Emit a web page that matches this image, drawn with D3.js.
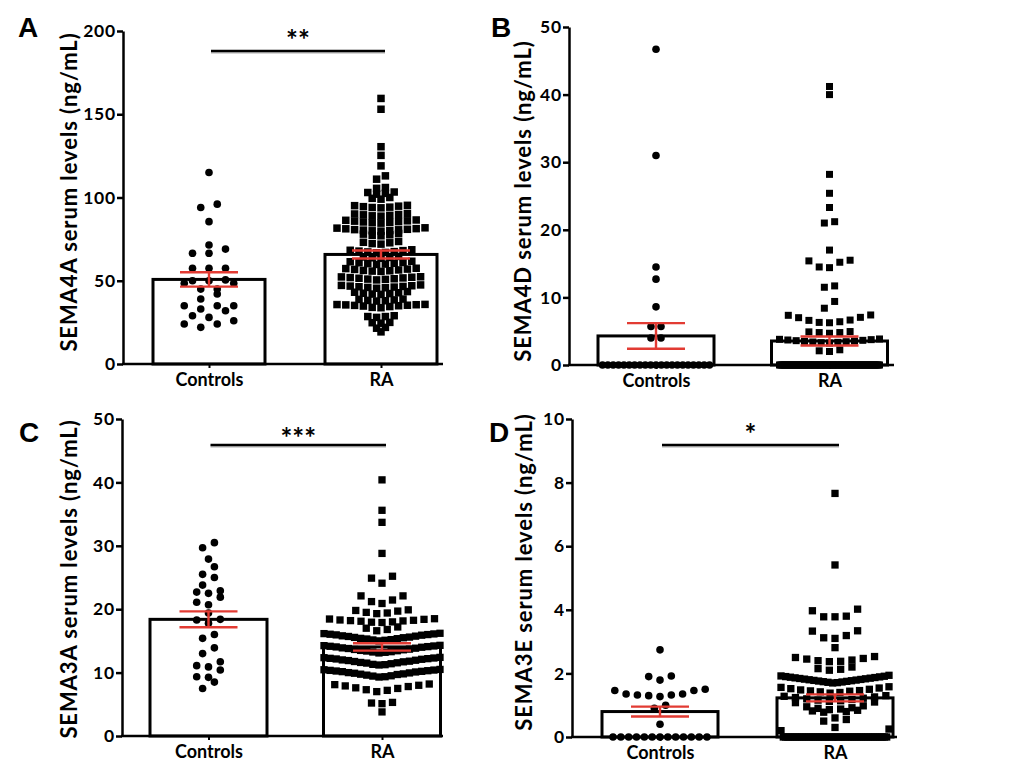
<!DOCTYPE html>
<html><head><meta charset="utf-8">
<script src="https://cdn.jsdelivr.net/npm/d3@7"></script>
<style>body{margin:0;background:#fff}svg{display:block}</style>
</head><body><svg id="c" width="1024" height="768"></svg>
<script>
// ---------------- DATA ----------------
const groups = ["Controls", "RA"];
const panelLetters = ["A", "B", "C", "D"];
const yTitles = ["SEMA4A serum levels (ng/mL)", "SEMA4D serum levels (ng/mL)",
                 "SEMA3A serum levels (ng/mL)", "SEMA3E serum levels (ng/mL)"];
const sigLabels = ["**", "", "***", "*"];
const sigLevel = [188, null, 45.9, 9.18];
const ticksA = [0, 50, 100, 150, 200];
const ticksB = [0, 10, 20, 30, 40, 50];
const ticksC = [0, 10, 20, 30, 40, 50];
const ticksD = [0, 2, 4, 6, 8, 10];

const meanA = [50.8, 65.8], semA = [4.3, 2.4];
const meanB = [4.3, 3.55], semB = [1.9, 0.67];
const meanC = [18.4, 14.05], semC = [1.25, 0.58];
const meanD = [0.8, 1.23], semD = [0.155, 0.11];

const A_controls = [115, 96, 94, 85.5, 71.5, 69, 66.5, 66.5, 57.5, 57.5, 57.5, 50.5, 50, 50, 48.5, 48.5,
  45, 45, 42, 39, 35, 35, 35, 33, 32, 29, 28, 26, 24, 24, 22];
const A_ra = [159.5, 153, 130.5, 125.3, 119, 113, 111, 106, 105.5, 103.3, 103, 102.5, 102, 100, 99.5, 99,
  95.3, 95.1, 94.8, 94.5, 94.2, 94, 93.8, 90.4, 90.1, 89.8, 89.6, 89.3, 89, 88.8,
  86.5, 86.3, 86, 85.8, 85.5, 85.3, 85, 84.8, 84.6,
  81.8, 81.6, 81.3, 81.2, 80.9, 80.7, 80.6, 80.4, 80.1, 80, 79.8,
  78.4, 78, 77.6, 77.3, 77, 73.6, 73.1, 72.8, 72.3, 72,
  68.6, 68.3, 68.1, 67.8, 67.5, 67.3, 67, 66.8, 64.6, 64.3, 64, 63.8, 63.5,
  61.7, 61.4, 61, 60.8, 60.5, 60.3, 60, 59.8,
  57.5, 57.3, 57, 56.8, 56.5, 56.2, 56, 55.8, 55.6,
  52.4, 52.3, 52.1, 51.9, 51.7, 51.5, 51.2, 51, 50.8, 50.5,
  47.5, 47.2, 47, 46.8, 46.6, 46.4, 46.2, 46, 45.8, 45.5,
  43.5, 43.1, 42.8, 42.5, 42.3, 42, 41.8, 39, 38.8, 38.5, 38.2, 38, 37.8,
  35.8, 35.7, 35.6, 35.5, 35.3, 35.2, 35, 34.8, 34.5, 34, 33.8,
  29, 28.5, 28.5, 28, 25, 24.8, 24.5, 22, 21.5, 19.3];

const B_controls = [46.7, 31, 14.5, 12.7, 8.6, 5.7, 5.7, 4, 4,
  0, 0, 0, 0, 0, 0, 0, 0, 0, 0, 0, 0, 0, 0, 0, 0, 0, 0, 0, 0, 0];
const B_ra = [41.2, 40.0, 28.2, 25.4, 23.3, 21.2, 21.0, 17.0, 15.5, 15.4, 15.2, 14.5, 14.4, 11.7, 11.5,
  9.4, 8.4, 7.4, 7.35, 7.05, 7.0, 6.65, 6.6, 6.4, 6.3, 6.25, 4.95, 4.9, 4.8, 4.8, 4.7,
  3.85, 3.8, 3.75, 3.7, 3.65, 3.6, 3.55, 3.5, 3.45, 3.4, 3.35, 3.3, 3.25, 2.25, 2.1, 2.0,
  0, 0, 0, 0, 0, 0, 0, 0, 0, 0, 0, 0, 0, 0, 0, 0, 0, 0, 0, 0, 0, 0, 0, 0, 0, 0, 0, 0,
  0, 0, 0, 0, 0, 0, 0, 0, 0, 0, 0, 0, 0, 0, 0, 0, 0, 0, 0, 0, 0, 0, 0, 0, 0, 0, 0, 0,
  0, 0, 0, 0, 0, 0, 0, 0, 0, 0, 0, 0, 0, 0, 0, 0, 0, 0, 0, 0, 0, 0, 0, 0, 0, 0, 0, 0];

const C_controls = [30.5, 29.7, 27.9, 26.7, 25.5, 25.0, 23.8, 22.9, 22.7, 22.5, 21.9, 21.1, 20.7, 19.4,
  18.4, 18.3, 17.8, 16.0, 15.4, 13.9, 13.0, 11.7, 11.1, 10.9, 10.4, 9.35, 9.25, 8.5, 7.5];
const C_ra = [40.4, 35.6, 33.7, 28.8, 25.2, 24.9, 24.1, 22.1, 22.1, 21.45, 21.2, 20.9,
  19.9, 19.8, 19.7, 19.5, 19.4, 19.3,
  18.5, 18.45, 18.4, 18.3, 18.25, 18.2, 18.15, 18.1, 18.0, 17.95, 17.9,
  17.2, 17.0, 16.8, 16.6,
  16.2, 16.15, 16.1, 16.05, 16.0, 15.95, 15.9, 15.8, 15.75, 15.7, 15.6, 15.55, 15.5, 15.4, 15.35, 15.3, 15.2, 15.15, 15.1, 15.0,
  14.3, 14.25, 14.2, 14.15, 14.1, 14.05, 14.0, 13.9, 13.85, 13.8, 13.7, 13.65, 13.6, 13.5, 13.45, 13.4, 13.3, 13.25, 13.2, 13.1,
  12.4, 12.35, 12.3, 12.25, 12.2, 12.15, 12.1, 12.0, 11.95, 11.9, 11.8, 11.75, 11.7, 11.6, 11.55, 11.5, 11.4, 11.3, 11.25, 11.2,
  10.5, 10.45, 10.4, 10.35, 10.3, 10.25, 10.2, 10.15, 10.1, 10.0, 9.95, 9.9, 9.8, 9.75, 9.7, 9.6, 9.5, 9.45, 9.35, 9.3,
  8.2, 8.1, 8.0, 7.9, 7.8, 7.6, 7.5, 7.3, 7.2, 7.0, 5.3, 5.2, 5.1, 3.8];

const D_controls = [2.74, 1.92, 1.9, 1.79, 1.5, 1.46, 1.46, 1.35, 1.35, 1.32, 1.32, 1.3, 1.27, 1.0, 0.9, 0.4,
  0, 0, 0, 0, 0, 0, 0, 0, 0, 0, 0, 0, 0];
const D_ra = [7.66, 5.41, 4.02, 3.97, 3.8, 3.78, 3.78, 3.34, 3.33, 3.19, 3.12, 3.1, 2.81,
  2.53, 2.5, 2.47, 2.45, 2.42, 2.4, 2.38, 2.37, 2.2, 2.15, 2.13, 2.1,
  1.94, 1.92, 1.91, 1.9, 1.89, 1.88, 1.87, 1.86, 1.85, 1.84, 1.83, 1.82, 1.81, 1.8, 1.79, 1.78, 1.77, 1.76, 1.75, 1.74, 1.73, 1.72, 1.71, 1.7,
  1.58, 1.56, 1.54, 1.52, 1.5, 1.48, 1.46, 1.45, 1.44, 1.42, 1.4, 1.38,
  1.3, 1.28, 1.26, 1.24, 1.22, 1.2, 1.18, 1.16, 1.14, 1.12, 1.1, 1.08,
  0.98, 0.95, 0.92, 0.9, 0.88, 0.86, 0.84, 0.82, 0.8, 0.78, 0.6, 0.55, 0.5, 0.3, 0.25, 0.2,
  0, 0, 0, 0, 0, 0, 0, 0, 0, 0, 0, 0, 0, 0, 0, 0, 0, 0, 0, 0, 0, 0, 0, 0,
  0, 0, 0, 0, 0, 0, 0, 0, 0, 0, 0, 0, 0, 0, 0, 0, 0, 0, 0, 0, 0, 0];

// ---------------- LAYOUT / STYLE ----------------
const panels = [
  { letter: panelLetters[0], title: yTitles[0], ctrl: A_controls, ra: A_ra, mean: meanA, sem: semA, ticks: ticksA,
    sig: sigLabels[0], sigV: sigLevel[0], sigDy: -17, max: 200,
    ax: 123, axEnd: 443, y0: 364, y1: 31, c0: 209, c1: 381, barW: 112,
    titleX: 77, titleY: 192, letterX: 18, letterY: 37,
    cs: { size: 7.6, spacing: 16.5, maxW: 100, tol: 8 }, rs: { size: 7.5, spacing: 8.8, maxW: 106, tol: 3.5 } },
  { letter: panelLetters[1], title: yTitles[1], ctrl: B_controls, ra: B_ra, mean: meanB, sem: semB, ticks: ticksB,
    sig: sigLabels[1], sigV: sigLevel[1], sigDy: -17, max: 50,
    ax: 569, axEnd: 894, y0: 365, y1: 27, c0: 656, c1: 829.5, barW: 116,
    titleX: 531, titleY: 201, letterX: 491, letterY: 37,
    cs: { size: 7.6, spacing: 10, maxW: 107, tol: 8 }, rs: { size: 7, spacing: 10.3, maxW: 100, tol: 8 } },
  { letter: panelLetters[2], title: yTitles[2], ctrl: C_controls, ra: C_ra, mean: meanC, sem: semC, ticks: ticksC,
    sig: sigLabels[2], sigV: sigLevel[2], sigDy: -13, max: 50,
    ax: 122, axEnd: 443, y0: 736, y1: 419, c0: 208.5, c1: 382, barW: 117,
    titleX: 77, titleY: 579, letterX: 19, letterY: 442,
    cs: { size: 7.6, spacing: 11.8, maxW: 100, tol: 8 }, rs: { size: 7.3, spacing: 10.5, maxW: 116, tol: 8 } },
  { letter: panelLetters[3], title: yTitles[3], ctrl: D_controls, ra: D_ra, mean: meanD, sem: semD, ticks: ticksD,
    sig: sigLabels[3], sigV: sigLevel[3], sigDy: -17, max: 10,
    ax: 572, axEnd: 897, y0: 737, y1: 419, c0: 660, c1: 835, barW: 116,
    titleX: 532, titleY: 572, letterX: 489, letterY: 442,
    cs: { size: 7.6, spacing: 11.3, maxW: 94, tol: 8 }, rs: { size: 7.3, spacing: 11.3, maxW: 108, tol: 8 } }
];

const FONT = "Lato, 'Open Sans', sans-serif";
const RED = "#e23b33";

// Prism-like row scatter: group close values into rows, spread each row centre-out
function layoutRows(values, y, cx, st) {
  const sorted = values.slice().sort((a, b) => a - b);
  const rows = []; let cur = null;
  for (const v of sorted) {
    if (cur && Math.abs(y(cur[0]) - y(v)) < st.tol) cur.push(v);
    else { cur = [v]; rows.push(cur); }
  }
  const pts = [];
  for (const row of rows) {
    const n = row.length;
    const sp = n > 1 ? Math.min(st.spacing, st.maxW / (n - 1)) : 0;
    const slots = [];
    if (n % 2) { slots.push(0); for (let k = 1; slots.length < n; k++) { slots.push(-k); if (slots.length < n) slots.push(k); } }
    else { for (let k = 0.5; slots.length < n; k++) { slots.push(-k); slots.push(k); } }
    row.forEach((v, i) => pts.push({ v, x: cx + slots[i] * sp }));
  }
  return pts;
}

const svg = d3.select("#c");
svg.append("rect").attr("width", 1024).attr("height", 768).attr("fill", "#fff");

panels.forEach(p => {
  const g = svg.append("g");
  const y = d3.scaleLinear().domain([0, p.max]).range([p.y0, p.y1]);
  const x = d3.scalePoint().domain(groups).range([p.c0, p.c1]);

  // bars (mean)
  g.selectAll("rect.bar").data(groups).join("rect").attr("class", "bar")
    .attr("x", d => x(d) - p.barW / 2)
    .attr("y", (d, i) => y(p.mean[i]))
    .attr("width", p.barW)
    .attr("height", (d, i) => y(0) - y(p.mean[i]))
    .attr("fill", "#fff").attr("stroke", "#000").attr("stroke-width", 3);

  // points
  const cp = layoutRows(p.ctrl, y, x("Controls"), p.cs);
  g.selectAll("circle.pt").data(cp).join("circle").attr("class", "pt")
    .attr("cx", d => d.x).attr("cy", d => y(d.v)).attr("r", p.cs.size / 2).attr("fill", "#000");
  const rp = layoutRows(p.ra, y, x("RA"), p.rs);
  g.selectAll("rect.pt").data(rp).join("rect").attr("class", "pt")
    .attr("x", d => d.x - p.rs.size / 2).attr("y", d => y(d.v) - p.rs.size / 2)
    .attr("width", p.rs.size).attr("height", p.rs.size).attr("fill", "#000");

  // error bars (SEM)
  const eb = g.selectAll("g.eb").data(groups).join("g").attr("class", "eb")
    .attr("stroke", RED).attr("stroke-width", 2.4);
  eb.append("line").attr("x1", d => x(d)).attr("x2", d => x(d))
    .attr("y1", (d, i) => y(p.mean[i] - p.sem[i])).attr("y2", (d, i) => y(p.mean[i] + p.sem[i]));
  eb.append("line").attr("x1", d => x(d) - 29).attr("x2", d => x(d) + 29)
    .attr("y1", (d, i) => y(p.mean[i] + p.sem[i])).attr("y2", (d, i) => y(p.mean[i] + p.sem[i]));
  eb.append("line").attr("x1", d => x(d) - 29).attr("x2", d => x(d) + 29)
    .attr("y1", (d, i) => y(p.mean[i] - p.sem[i])).attr("y2", (d, i) => y(p.mean[i] - p.sem[i]));

  // y axis
  const ya = g.append("g").attr("transform", `translate(${p.ax},0)`)
    .call(d3.axisLeft(y).tickValues(p.ticks).tickSize(6).tickSizeOuter(0).tickPadding(1));
  ya.select(".domain").attr("stroke-width", 2.5);
  ya.selectAll(".tick line").attr("stroke-width", 2.5);
  ya.selectAll(".tick text").attr("font-family", FONT).attr("font-weight", "bold")
    .attr("font-size", 17.5).attr("letter-spacing", 0.8).attr("fill", "#000");

  // x axis
  g.append("line").attr("x1", p.ax - 1).attr("x2", p.axEnd).attr("y1", y(0)).attr("y2", y(0))
    .attr("stroke", "#000").attr("stroke-width", 2.5);
  const xa = g.append("g").attr("transform", `translate(0,${y(0)})`)
    .call(d3.axisBottom(x).tickSize(4).tickSizeOuter(0).tickPadding(5));
  xa.select(".domain").remove();
  xa.selectAll(".tick line").attr("stroke-width", 2);
  xa.selectAll(".tick text").attr("font-family", FONT).attr("font-weight", "bold")
    .attr("font-size", 18).attr("fill", "#000");

  // y title (baseline at titleX, rotated)
  g.append("text").attr("transform", `translate(${p.titleX},${p.titleY}) rotate(-90)`)
    .attr("text-anchor", "middle")
    .attr("font-family", FONT).attr("font-weight", "bold").attr("font-size", 22)
    .attr("letter-spacing", 0.9).attr("fill", "#000")
    .text(p.title);

  // panel letter
  g.append("text").attr("x", p.letterX).attr("y", p.letterY)
    .attr("font-family", "'Liberation Sans', Arial, sans-serif").attr("font-weight", "bold")
    .attr("font-size", 28).attr("fill", "#000").text(p.letter);

  // significance
  if (p.sig) {
    const sy = y(p.sigV);
    const fs = 28;
    g.append("line").attr("x1", x("Controls") + 2).attr("x2", x("RA") + 4).attr("y1", sy + 1.5).attr("y2", sy + 1.5)
      .attr("stroke", "#c8c8c8").attr("stroke-width", 2.5);
    g.append("line").attr("x1", x("Controls") + 2).attr("x2", x("RA") + 4).attr("y1", sy).attr("y2", sy)
      .attr("stroke", "#000").attr("stroke-width", 2.5);
    g.append("text").attr("x", (x("Controls") + x("RA")) / 2 + 3).attr("y", sy + p.sigDy + 0.56 * fs)
      .attr("text-anchor", "middle")
      .attr("font-family", FONT).attr("font-weight", "bold").attr("font-size", fs)
      .attr("fill", "#000").text(p.sig);
  }
});
</script>
</body></html>
